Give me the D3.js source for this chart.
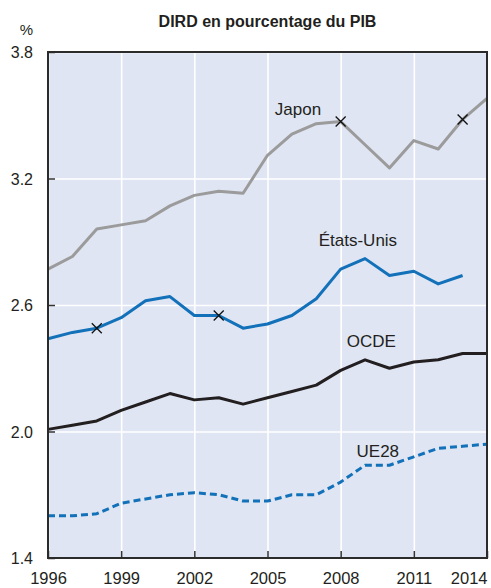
<!DOCTYPE html>
<html>
<head>
<meta charset="utf-8">
<script src="https://cdn.jsdelivr.net/npm/d3@7"></script>
<style>
  body { margin: 0; background: #fff; }
  svg text { font-family: "Liberation Sans", Arial, sans-serif; fill: #231f20; }
</style>
</head>
<body>
<div id="viz"></div>
<script>
var years = [1996, 1997, 1998, 1999, 2000, 2001, 2002, 2003, 2004, 2005, 2006, 2007, 2008, 2009, 2010, 2011, 2012, 2013, 2014];
var japon = [2.77, 2.83, 2.96, 2.98, 3.00, 3.07, 3.12, 3.14, 3.13, 3.31, 3.41, 3.46, 3.47, 3.36, 3.25, 3.38, 3.34, 3.48, 3.58];
var etatsUnis = [2.44, 2.47, 2.49, 2.54, 2.62, 2.64, 2.55, 2.55, 2.49, 2.51, 2.55, 2.63, 2.77, 2.82, 2.74, 2.76, 2.70, 2.74, null];
var ocde = [2.01, 2.03, 2.05, 2.10, 2.14, 2.18, 2.15, 2.16, 2.13, 2.16, 2.19, 2.22, 2.29, 2.34, 2.30, 2.33, 2.34, 2.37, 2.37];
var ue28 = [1.60, 1.60, 1.61, 1.66, 1.68, 1.70, 1.71, 1.70, 1.67, 1.67, 1.70, 1.70, 1.76, 1.84, 1.84, 1.88, 1.92, 1.93, 1.94];

var xTicks = [1996, 1999, 2002, 2005, 2008, 2011, 2014];
var yTicks = [1.4, 2.0, 2.6, 3.2, 3.8];

// years with a break marker (x)
var japonBreaks = [2008, 2013];
var usBreaks = [1998, 2003];

var margin = {top: 52, right: 4, bottom: 30, left: 48},
    width = 491 - margin.left - margin.right,
    height = 588 - margin.top - margin.bottom;

var svg = d3.select("#viz")
  .append("svg")
  .attr("width", 491)
  .attr("height", 588);

var g = svg.append("g")
  .attr("transform", "translate(" + margin.left + "," + margin.top + ")");

var x = d3.scaleLinear().domain([1996, 2014]).range([0, width]);
var y = d3.scaleLinear().domain([1.4, 3.8]).range([height, 0]);

// title
svg.append("text")
  .attr("x", margin.left + width / 2)
  .attr("y", 27)
  .attr("text-anchor", "middle")
  .style("font-weight", "bold")
  .style("font-size", "16px")
  .text("DIRD en pourcentage du PIB");

svg.append("text")
  .attr("x", 33)
  .attr("y", 35)
  .attr("text-anchor", "end")
  .style("font-size", "15px")
  .text("%");

g.append("rect")
  .attr("width", width)
  .attr("height", height)
  .attr("fill", "#dfe5f3");

// grid
g.append("g")
  .call(d3.axisBottom(x).tickValues(xTicks).tickSize(height).tickFormat(""))
  .call(function(s) {
    s.select(".domain").remove();
    s.selectAll("line").attr("stroke", "#fff").attr("stroke-width", 1.6);
  });

g.append("g")
  .call(d3.axisLeft(y).tickValues(yTicks).tickSize(-width).tickFormat(""))
  .call(function(s) {
    s.select(".domain").remove();
    s.selectAll("line").attr("stroke", "#fff").attr("stroke-width", 1.6);
  });

// inner ticks
g.append("g")
  .attr("transform", "translate(0," + height + ")")
  .call(d3.axisBottom(x).tickValues(xTicks).tickSize(-7).tickFormat(""))
  .call(function(s) {
    s.select(".domain").remove();
    s.selectAll("line").attr("stroke", "#333").attr("stroke-width", 1.5);
  });

g.append("g")
  .call(d3.axisLeft(y).tickValues(yTicks).tickSize(-7).tickFormat(""))
  .call(function(s) {
    s.select(".domain").remove();
    s.selectAll("line").attr("stroke", "#333").attr("stroke-width", 1.5);
  });

// tick labels
g.append("g")
  .attr("transform", "translate(0," + height + ")")
  .call(d3.axisBottom(x).tickValues(xTicks).tickFormat(d3.format("d")).tickSize(0).tickPadding(14))
  .call(function(s) {
    s.select(".domain").remove();
    s.selectAll("text")
      .attr("fill", "#231f20")
      .style("font-size", "16.5px")
      .style("font-family", null)
      .attr("text-anchor", function(d) { return d == 2014 ? "end" : "middle"; });
  });

g.append("g")
  .call(d3.axisLeft(y).tickValues(yTicks).tickFormat(d3.format(".1f")).tickSize(0).tickPadding(15))
  .call(function(s) {
    s.select(".domain").remove();
    s.selectAll("text")
      .attr("fill", "#231f20")
      .attr("dy", "0.36em")
      .style("font-size", "16px")
      .style("font-family", null);
  });

var series = [
  {name: "Japon", values: japon, color: "#9b9b9b", dash: null, lx: 2005.3, ly: 3.50},
  {name: "États-Unis", values: etatsUnis, color: "#1271b9", dash: null, lx: 2007.1, ly: 2.88},
  {name: "OCDE", values: ocde, color: "#231f20", dash: null, lx: 2008.25, ly: 2.40},
  {name: "UE28", values: ue28, color: "#1271b9", dash: "7,4", lx: 2008.65, ly: 1.88}
];

var line = d3.line()
  .defined(function(d) { return d[1] != null; })
  .x(function(d) { return x(d[0]); })
  .y(function(d) { return y(d[1]); });

series.forEach(function(s) {
  var pts = years.map(function(yr, i) { return [yr, s.values[i]]; });
  g.append("path")
    .datum(pts)
    .attr("d", line)
    .attr("fill", "none")
    .attr("stroke", s.color)
    .attr("stroke-width", 3)
    .attr("stroke-linejoin", "round")
    .attr("stroke-dasharray", s.dash);

  g.append("text")
    .attr("x", x(s.lx))
    .attr("y", y(s.ly))
    .style("font-size", "17px")
    .text(s.name);
});

// break markers
var marks = japonBreaks.map(function(yr) { return [yr, japon[years.indexOf(yr)]]; })
  .concat(usBreaks.map(function(yr) { return [yr, etatsUnis[years.indexOf(yr)]]; }));

marks.forEach(function(m) {
  var cx = x(m[0]), cy = y(m[1]), r = 5;
  g.append("path")
    .attr("d", "M" + (cx - r) + "," + (cy - r) + "L" + (cx + r) + "," + (cy + r) +
               "M" + (cx - r) + "," + (cy + r) + "L" + (cx + r) + "," + (cy - r))
    .attr("stroke", "#111")
    .attr("stroke-width", 1.3);
});

// frame
g.append("rect")
  .attr("width", width)
  .attr("height", height)
  .attr("fill", "none")
  .attr("stroke", "#2b2b2b")
  .attr("stroke-width", 2);
</script>
</body>
</html>
